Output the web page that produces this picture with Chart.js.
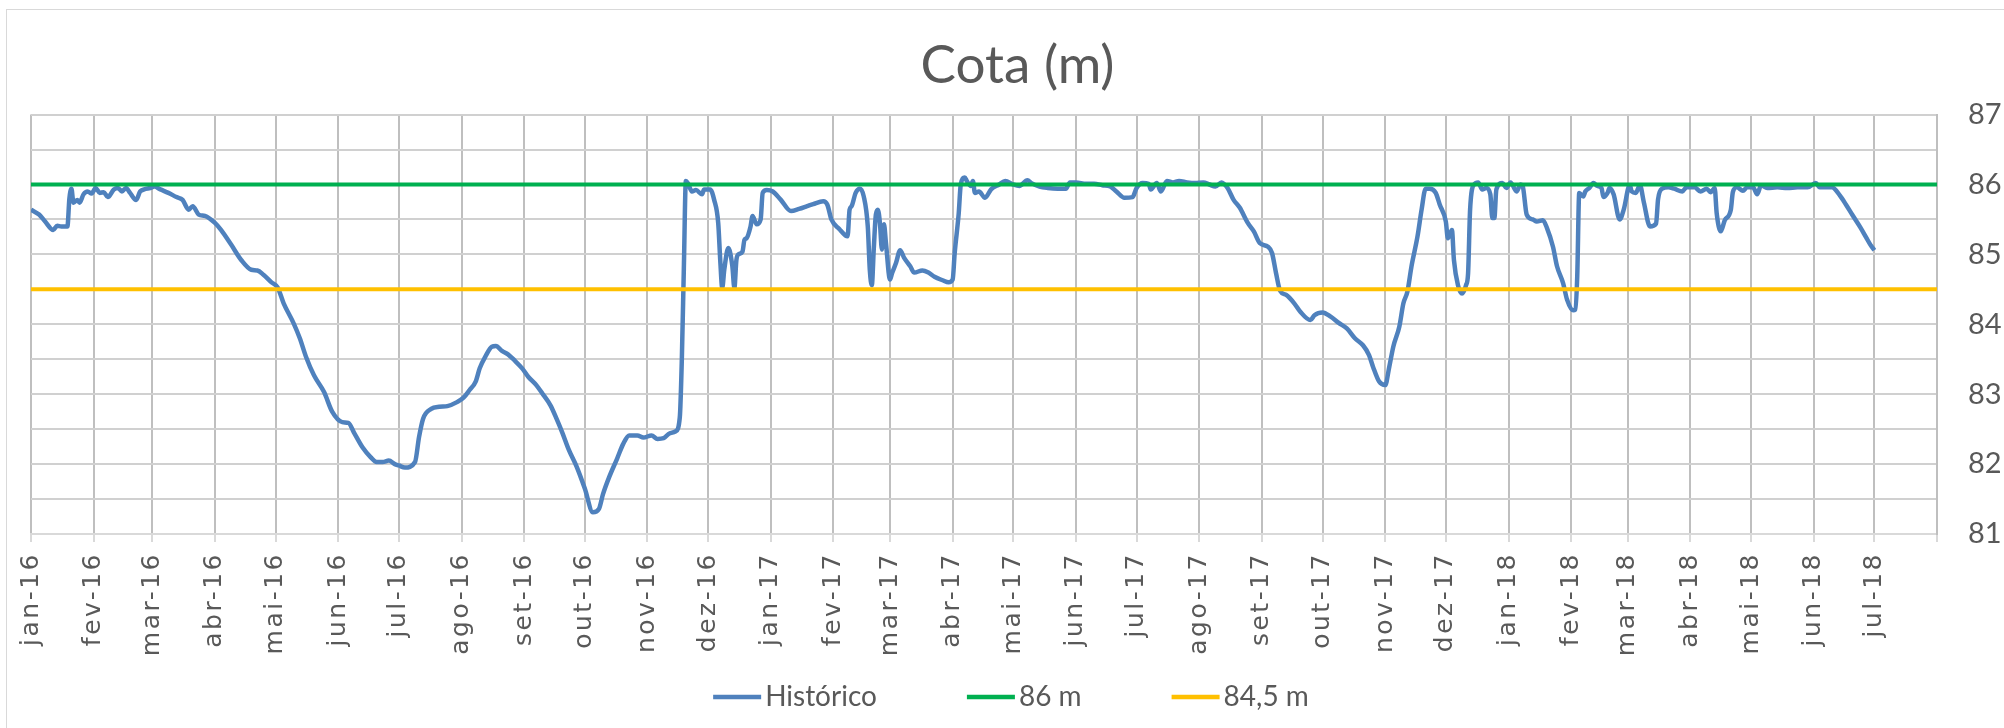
<!DOCTYPE html>
<html>
<head>
<meta charset="utf-8">
<title>Cota (m)</title>
<script src="https://cdn.jsdelivr.net/npm/chart.js@4.4.0/dist/chart.umd.min.js"></script>
<style>
  html, body { margin: 0; padding: 0; background: #fff; }
  #wrap { width: 2004px; height: 728px; }
</style>
</head>
<body>
<div id="wrap"><canvas id="cota" width="2004" height="728"></canvas></div>
<script>
// x values are days counted from 2016-01-01
const monthLabels = [
  'jan-16', 'fev-16', 'mar-16', 'abr-16', 'mai-16', 'jun-16', 'jul-16', 'ago-16', 'set-16', 'out-16', 'nov-16', 'dez-16',
  'jan-17', 'fev-17', 'mar-17', 'abr-17', 'mai-17', 'jun-17', 'jul-17', 'ago-17', 'set-17', 'out-17', 'nov-17', 'dez-17',
  'jan-18', 'fev-18', 'mar-18', 'abr-18', 'mai-18', 'jun-18', 'jul-18'
];

const histDays = [
  0, 4, 7, 11, 13, 15, 18, 19, 20, 21, 23, 24, 26, 28, 30, 32, 34, 36, 38, 41, 43, 45, 47, 49, 52, 54, 56, 59, 61, 64, 68, 72, 75, 78, 80, 83, 86, 91, 94, 99, 104, 109, 112, 115, 119, 122, 125, 130, 133,
  136, 140, 145, 149, 154, 157, 160, 164, 168, 171, 174, 177, 180, 182, 185, 190, 192, 194, 198, 202, 206, 211, 214, 217, 220, 222, 225, 228, 230, 233, 236, 239, 243, 246, 250, 253, 257, 260, 263, 266,
  270, 274, 278, 281, 283, 286, 290, 293, 296, 300, 303, 307, 310, 313, 316, 319, 321, 322, 323, 324, 325, 327, 329, 332, 333, 336, 338, 340, 341, 342, 343, 345, 347, 348, 349, 350, 352, 353, 354, 356, 357, 359, 361, 362, 364, 367, 371, 376, 380, 384, 387, 392, 394, 396, 400,
  403, 404, 405, 406, 408, 410, 412, 414, 415, 416, 417, 418, 419, 420, 421, 422, 423, 425, 426, 428, 430, 432, 435, 437, 441, 444, 447, 451, 454, 456, 457, 459, 460, 462, 463, 465, 466, 467, 469, 472, 475, 479, 482, 486, 489, 493, 495, 499, 503, 508, 512, 514, 517, 522, 526, 530, 534,
  537, 541, 545, 547, 550, 553, 554, 557, 559, 562, 565, 568, 572, 576, 580, 583, 586, 589, 592, 595, 598, 602, 605, 608, 612, 614, 616, 618, 621, 625, 628, 633, 635, 639, 643, 647, 651, 655, 659, 662, 664, 667,
  670, 672, 674, 677, 679, 681, 683, 686, 688, 690, 692, 695, 697, 700, 701, 703, 704, 706, 708, 710, 711, 712, 714, 716, 718, 720, 722, 723, 724, 725, 728, 730, 732, 735, 737, 738, 740, 743, 745, 748, 750, 753, 755, 758, 760, 763, 764, 765, 766, 768, 769, 771, 773, 775, 777, 778, 780, 781, 783, 786, 788, 791, 792, 794, 796, 798, 801,
  804, 805, 807, 810, 813, 817, 819, 823, 826, 829, 831, 833, 834, 836, 838, 841, 842, 844, 847, 849, 852, 854, 856, 859, 864, 869, 874, 879, 883, 885, 887, 891, 895, 898, 901, 905, 908, 910, 912
];

const histLevels = [
  85.64, 85.57, 85.47, 85.35, 85.41, 85.40, 85.40, 85.80, 85.94, 85.74, 85.78, 85.74, 85.86, 85.90, 85.87, 85.95, 85.88, 85.89, 85.82, 85.93, 85.95, 85.90, 85.95, 85.88, 85.78, 85.90, 85.93, 85.95, 85.97, 85.93, 85.88, 85.82, 85.78, 85.64, 85.69, 85.57, 85.55, 85.45, 85.35, 85.14, 84.92, 84.78, 84.77, 84.71, 84.60, 84.53, 84.30, 84.01, 83.80,
  83.54, 83.27, 83.03, 82.75, 82.60, 82.59, 82.44, 82.24, 82.10, 82.03, 82.03, 82.05, 82.00, 81.98, 81.95, 82.03, 82.39, 82.65, 82.79, 82.82, 82.83, 82.89, 82.95, 83.06, 83.18, 83.37, 83.55, 83.68, 83.69, 83.62, 83.57, 83.49, 83.37, 83.25, 83.13, 83.01, 82.84, 82.65, 82.44, 82.21,
  81.96, 81.65, 81.31, 81.36, 81.57, 81.81, 82.08, 82.29, 82.41, 82.41, 82.38, 82.41, 82.36, 82.37, 82.44, 82.47, 82.67, 83.50, 84.80, 86.05, 86.02, 85.90, 85.92, 85.86, 85.93, 85.93, 85.78, 85.45, 84.92, 84.52, 84.78, 85.09, 84.83, 84.52, 84.92, 85.00, 85.04, 85.21, 85.23, 85.40, 85.55, 85.43, 85.50, 85.88, 85.92, 85.90, 85.78, 85.62, 85.65, 85.69, 85.72, 85.76, 85.71, 85.50, 85.36,
  85.27, 85.26, 85.64, 85.69, 85.88, 85.94, 85.83, 85.40, 84.78, 84.56, 85.10, 85.57, 85.64, 85.45, 85.07, 85.43, 85.16, 84.64, 84.73, 84.88, 85.06, 84.95, 84.83, 84.74, 84.77, 84.74, 84.68, 84.63, 84.60, 84.64, 85.02, 85.59, 86.00, 86.10, 86.05, 85.98, 86.05, 85.88, 85.90, 85.81, 85.93, 86.00, 86.05, 86.00, 85.98, 86.06, 86.02, 85.97, 85.95, 85.94, 85.94, 86.03, 86.03, 86.01, 86.01, 85.99, 85.97,
  85.90, 85.81, 85.82, 85.95, 86.02, 86.01, 85.93, 86.02, 85.90, 86.05, 86.03, 86.05, 86.03, 86.02, 86.03, 86.00, 85.97, 86.03, 85.95, 85.78, 85.67, 85.45, 85.33, 85.16, 85.11, 85.02, 84.73, 84.48, 84.42, 84.30, 84.18, 84.06, 84.13, 84.17, 84.11, 84.02, 83.94, 83.80, 83.70, 83.56, 83.39, 83.18,
  83.13, 83.39, 83.68, 83.97, 84.30, 84.47, 84.83, 85.26, 85.64, 85.94, 85.94, 85.88, 85.71, 85.47, 85.23, 85.35, 84.92, 84.56, 84.44, 84.56, 84.73, 85.64, 86.00, 86.03, 85.93, 85.95, 85.86, 85.52, 85.52, 85.93, 86.02, 85.95, 86.03, 85.90, 86.00, 85.98, 85.57, 85.50, 85.47, 85.49, 85.38, 85.11, 84.83, 84.59, 84.35, 84.20, 84.21, 84.68, 85.88, 85.83, 85.90, 85.95, 86.02, 85.98, 85.95, 85.82, 85.88, 85.95, 85.86, 85.50, 85.64, 85.99, 85.90, 85.88, 85.99, 85.74, 85.40,
  85.44, 85.79, 85.94, 85.96, 85.94, 85.90, 85.96, 85.96, 85.90, 85.94, 85.89, 85.95, 85.59, 85.33, 85.49, 85.64, 85.89, 85.96, 85.91, 85.96, 85.96, 85.86, 85.99, 85.95, 85.96, 85.95, 85.96, 85.96, 86.02, 85.96, 85.96, 85.96, 85.84, 85.71, 85.57, 85.39, 85.24, 85.14, 85.06
];

const refLevels = [86, 84.5];
const refLabels = ['86 m', '84,5 m'];
const refColors = ['#00B050', '#FFC000'];

// month starts from jan-16 up to ago-18 (plot edge, no label)
const dayOfMonth = i => Math.round((Date.UTC(2016, i, 1) - Date.UTC(2016, 0, 1)) / 86400000);
const tickDays = [];
for (let i = 0; i <= monthLabels.length; i++) tickDays.push(dayOfMonth(i));
const lastDay = tickDays[tickDays.length - 1];

const histPoints = histDays.map((d, i) => ({ x: d, y: histLevels[i] }));

const FONT = 'Lato, "Open Sans", sans-serif';
const TEXT_COLOR = '#595959';

// light outer frame of the chart object
const framePlugin = {
  id: 'frame',
  beforeDraw(chart) {
    const c = chart.ctx;
    c.save();
    c.strokeStyle = '#d9d9d9';
    c.lineWidth = 1;
    c.strokeRect(6.5, 9.5, chart.width, chart.height);
    c.restore();
  }
};

// legend drawn by hand: short thick line, text right next to it
const lineLegend = {
  id: 'lineLegend',
  afterDraw(chart) {
    const c = chart.ctx;
    c.save();
    c.font = '28px ' + FONT;
    c.textBaseline = 'middle';
    c.textAlign = 'left';
    const items = chart.data.datasets.map(ds => ({
      text: ds.label,
      color: ds.borderColor,
      w: 48 + 4 + c.measureText(ds.label).width
    }));
    const gap = 90;
    const total = items.reduce((s, it) => s + it.w, 0) + gap * (items.length - 1);
    let x = chart.width / 2 + 9 - total / 2;
    const y = 697;
    items.forEach(it => {
      c.fillStyle = it.color;
      c.fillRect(x, y - 2.25, 48, 4.5);
      c.fillStyle = TEXT_COLOR;
      c.fillText(it.text, x + 52, y);
      x += it.w + gap;
    });
    c.restore();
  }
};

Chart.defaults.font.family = FONT;
Chart.defaults.color = TEXT_COLOR;

const datasets = [{
  label: 'Histórico',
  data: histPoints,
  borderColor: '#4F81BD',
  backgroundColor: '#4F81BD',
  borderWidth: 4.5,
  pointRadius: 0,
  cubicInterpolationMode: 'monotone',
  order: 3
}];
refLevels.forEach((lvl, i) => {
  datasets.push({
    label: refLabels[i],
    data: [{ x: 0, y: lvl }, { x: lastDay, y: lvl }],
    borderColor: refColors[i],
    backgroundColor: refColors[i],
    borderWidth: 4,
    pointRadius: 0,
    order: 2 - i
  });
});

new Chart(document.getElementById('cota'), {
  type: 'line',
  data: { datasets },
  options: {
    responsive: false,
    animation: false,
    devicePixelRatio: 1,
    layout: { padding: { left: 31, right: 0, top: 0, bottom: 0 } },
    plugins: {
      title: {
        display: true,
        text: 'Cota (m)',
        color: TEXT_COLOR,
        font: { size: 53, weight: 'normal' },
        lineHeight: 1.2,
        padding: { top: 34, bottom: 17 }
      },
      legend: { display: false },
      tooltip: { enabled: false }
    },
    scales: {
      x: {
        type: 'linear',
        min: 0,
        max: lastDay,
        afterBuildTicks(scale) {
          scale.ticks = tickDays.map(v => ({ value: v }));
        },
        afterFit(scale) { scale.height = 194; },
        afterUpdate(scale) {
          // the month labels are widely spaced in the original
          if (scale._spaced) return;
          scale._spaced = true;
          const base = scale.drawLabels;
          scale.drawLabels = function (area) {
            this.ctx.save();
            this.ctx.letterSpacing = '2.5px';
            base.call(this, area);
            this.ctx.restore();
          };
        },
        ticks: {
          autoSkip: false,
          minRotation: 90,
          maxRotation: 90,
          padding: 10,
          color: TEXT_COLOR,
          font: { family: '"DejaVu Sans", sans-serif', size: 25 },
          callback: (v, i) => monthLabels[i] || ''
        },
        grid: { color: '#bfbfbf', lineWidth: 2, tickLength: 8, tickColor: '#d9d9d9' },
        border: { color: '#d9d9d9', width: 2 }
      },
      y: {
        position: 'right',
        min: 81,
        max: 87,
        afterFit(scale) { scale.width = 67; },
        ticks: {
          stepSize: 0.5,
          autoSkip: false,
          padding: 31,
          color: TEXT_COLOR,
          font: { size: 29 },
          callback: v => Number.isInteger(v) ? v : ''
        },
        grid: { color: '#d0d0d0', lineWidth: 2, drawTicks: false },
        border: { color: '#bfbfbf', width: 2 }
      }
    }
  },
  plugins: [framePlugin, lineLegend]
});
</script>
</body>
</html>
